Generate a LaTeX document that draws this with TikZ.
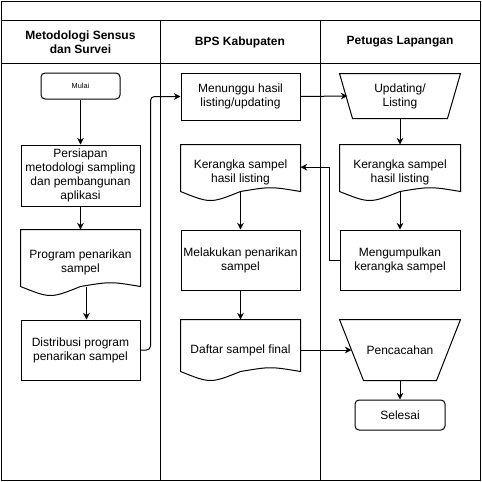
\documentclass[tikz,border=0pt]{standalone}
\usepackage{fontspec}
\setmainfont{Liberation Sans}
\usetikzlibrary{arrows.meta,calc}

% outline of a document box, wavy bottom
\newcommand{\docwave}[1]{%
	\draw (#1.north west) -- (#1.north east) -- ($(#1.south east)+(0,6.75pt)$)
		.. controls ($(#1.south east)!0.25!(#1.south west)+(0,10.5pt)$) .. ($(#1.south)+(0,6.75pt)$)
		.. controls ($(#1.south east)!0.75!(#1.south west)+(0,-2.25pt)$) .. ($(#1.south west)+(0,6.75pt)$)
		-- cycle;}
% outline of a manual operation, narrower at the bottom
\newcommand{\manualop}[2]{%
	\draw (#1.north west) -- (#1.north east) -- ($(#1.south east)+(-#2,0)$)
		-- ($(#1.south west)+(#2,0)$) -- cycle;}

\begin{document}
\begin{tikzpicture}[x=0.75pt,y=-0.75pt,line width=0.75pt,
	every node/.style={font=\fontsize{9}{10.5}\selectfont,align=center,inner sep=1pt},
	box/.style={draw,rectangle,minimum width=89.25pt,minimum height=45pt},
	docbox/.style={rectangle,minimum width=89.25pt,minimum height=45pt},
	terminal/.style={draw,rectangle,rounded corners=3pt},
	manual/.style={rectangle,minimum width=90pt},
	head/.style={font=\fontsize{9}{10.5}\selectfont\bfseries},
	arr/.style={-{Stealth[length=5pt,width=5pt]}}]
	
	\useasboundingbox (0,0) rectangle (482,482);
	
	% lanes
	\draw (1,1) rectangle (480,480);
	\draw (1,20) -- (480,20);
	\draw (1,63) -- (480,63);
	\foreach \x in {160,320}
		\draw (\x,20) -- (\x,480);
	
	\node[head] (laneMetod) at (80.5,42) {Metodologi Sensus\\dan Survei};
	\node[head] (laneBps) at (240,42) {BPS Kabupaten};
	\node[head] (lanePetugas) at (400,42) {Petugas Lapangan};
	
	% Metodologi Sensus dan Survei
	\node[terminal,minimum width=59.25pt,minimum height=19.5pt,font=\fontsize{5.5}{6}\selectfont] (mulai) at (80.5,86) {Mulai};
	\node[box,minimum height=45.75pt] (persiapan) at (80.5,175.5) {Persiapan\\metodologi sampling\\dan pembangunan\\aplikasi};
	\node[docbox,minimum height=48.75pt] (program) at (80.5,262.5) {Program penarikan\\sampel};
	\node[box] (distribusi) at (80.5,350) {Distribusi program\\penarikan sampel};
	
	% BPS Kabupaten
	\node[box,minimum height=35.25pt] (menunggu) at (240.5,96.5) {Menunggu hasil\\listing/updating};
	\node[docbox,minimum height=41.25pt] (kerBps) at (240.5,172.5) {Kerangka sampel\\hasil listing};
	\node[box] (melakukan) at (240.5,260) {Melakukan penarikan\\sampel};
	\node[docbox] (daftar) at (240.5,350) {Daftar sampel final};
	
	% Petugas Lapangan
	\node[manual,minimum height=33pt] (updating) at (400,96) {Updating/\\Listing};
	\node[docbox,minimum width=90pt,minimum height=41.25pt] (kerPetugas) at (400,172.5) {Kerangka sampel\\hasil listing};
	\node[box,minimum width=90pt] (mengumpulkan) at (400,260) {Mengumpulkan\\kerangka sampel};
	\node[manual,minimum height=45pt] (pencacahan) at (400,350) {Pencacahan};
	\node[terminal,minimum width=67.5pt,minimum height=22.5pt] (selesai) at (400,415) {Selesai};
	
	\docwave{program}
	\docwave{kerBps}
	\docwave{daftar}
	\docwave{kerPetugas}
	\manualop{updating}{9.75pt}
	\manualop{pencacahan}{18pt}
	
	% connectors
	\draw[arr] (mulai.south) -- (persiapan.north);
	\draw[arr] (persiapan.south) -- (program.north);
	\draw[arr] ($(program.south)+(4.5pt,6.75pt)$) -- ($(distribusi.north)+(4.5pt,0)$);
	\draw[arr,rounded corners=3pt] (distribusi.east) -- ++(10,0) |- (menunggu.west);
	\draw[arr] (menunggu.east) -- ($(updating.west)+(6pt,0)$);
	\draw[arr] (updating.south) -- (kerPetugas.north);
	\draw[arr] ($(kerPetugas.south)+(0,6.75pt)$) -- (mengumpulkan.north);
	\draw[arr] (mengumpulkan.west) -- ++(-10,0) |- ($(kerBps.east)+(0,4pt)$);
	\draw[arr] ($(kerBps.south)+(0,6.75pt)$) -- (melakukan.north);
	\draw[arr] (melakukan.south) -- (daftar.north);
	\draw[arr] (daftar.east) -- ($(pencacahan.west)+(9pt,0)$);
	\draw[arr] (pencacahan.south) -- (selesai.north);
	
\end{tikzpicture}
\end{document}
